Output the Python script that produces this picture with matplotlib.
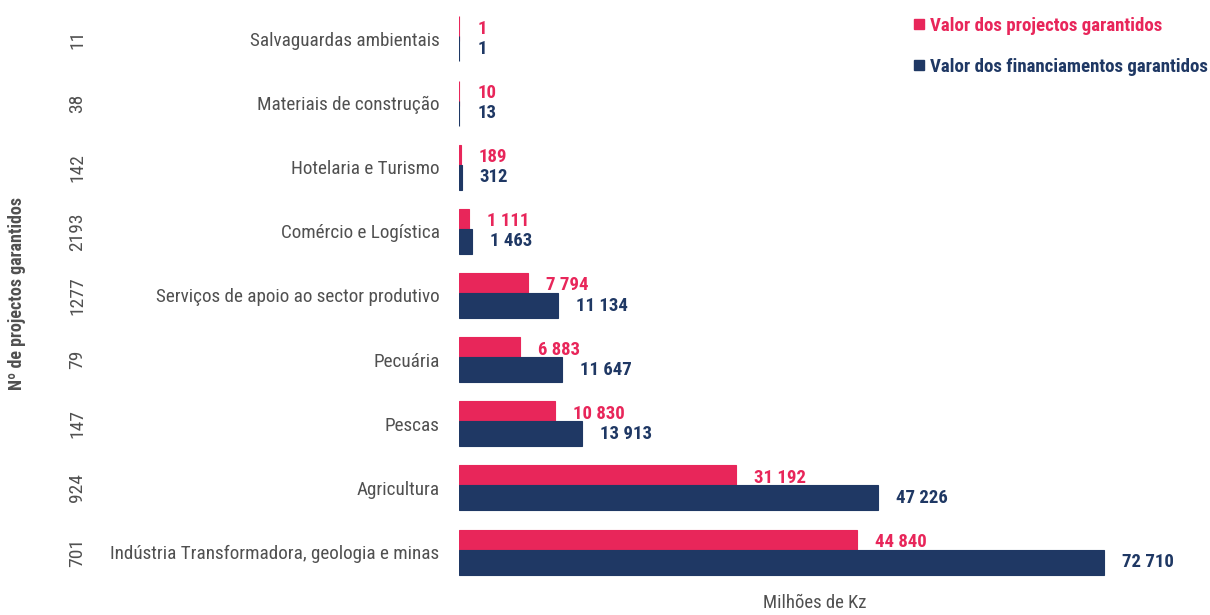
import matplotlib
matplotlib.use("Agg")
import matplotlib.pyplot as plt
import numpy as np
from matplotlib import font_manager
from matplotlib.lines import Line2D

# data, bottom to top as drawn
categories = [
    "Indústria Transformadora, geologia e minas",
    "Agricultura",
    "Pescas",
    "Pecuária",
    "Serviços de apoio ao sector produtivo",
    "Comércio e Logística",
    "Hotelaria e Turismo",
    "Materiais de construção",
    "Salvaguardas ambientais",
]
n_projects = [701, 924, 147, 79, 1277, 2193, 142, 38, 11]
projects_value = [44840, 31192, 10830, 6883, 7794, 1111, 189, 10, 1]
financing_value = [72710, 47226, 13913, 11647, 11134, 1463, 312, 13, 1]

PINK = "#E8265A"
NAVY = "#1F3864"
GRAY = "#505050"

# pick a narrow sans if one is installed
installed = {f.name for f in font_manager.fontManager.ttflist}
narrow = [n for n in ["Roboto Condensed", "Open Sans Condensed", "IBM Plex Sans Condensed",
                      "Liberation Sans Narrow"] if n in installed]
FONT = narrow[:1] + ["DejaVu Sans"]
plt.rcParams["font.family"] = FONT

W, H = 1210, 615
fig = plt.figure(figsize=(W / 100, H / 100), dpi=100)

# axes placement in pixels: x=0 at 459 px, 645 px per 72710
x0_px, x1_px = 459, 1198
px_per_unit = 645 / 72710
ax = fig.add_axes([x0_px / W, 1 - 590.5 / H, (x1_px - x0_px) / W, 590 / H])
ax.set_xlim(0, (x1_px - x0_px) / px_per_unit)
ax.set_ylim(-0.6, 8.6)

y = np.arange(len(categories))
bar_h = 0.39
off = 0.156

ax.barh(y + off, projects_value, height=bar_h, color=PINK, edgecolor=PINK, linewidth=0.8)
ax.barh(y - off, financing_value, height=bar_h, color=NAVY, edgecolor=NAVY, linewidth=0.8)


def fmt(v):
    return f"{v:,}".replace(",", " ")


for yi, pv, fv in zip(y, projects_value, financing_value):
    ax.annotate(fmt(pv), (pv, yi + off), xytext=(13, 0), textcoords="offset points",
                va="center", ha="left", color=PINK, fontsize=13.5, fontweight="bold")
    ax.annotate(fmt(fv), (fv, yi - off), xytext=(13, 0), textcoords="offset points",
                va="center", ha="left", color=NAVY, fontsize=13.5, fontweight="bold")

ax.set_yticks(y)
ax.set_yticklabels(categories, fontsize=13.8, color=GRAY)
ax.tick_params(axis="y", length=0, pad=14)
ax.set_xticks([])
for s in ax.spines.values():
    s.set_visible(False)

# project counts, rotated, left of the category labels
for yi, n in zip(y, n_projects):
    ax.annotate(str(n), (0, yi), xycoords=("figure fraction", "data"),
                xytext=(77, 0), textcoords="offset pixels",
                rotation=90, ha="center", va="center", fontsize=14, color=GRAY)

fig.text(17 / W, 1 - 293 / H, "Nº de projectos garantidos", rotation=90,
         ha="center", va="center", fontsize=13, fontweight="bold", color=GRAY)
fig.text(815 / W, 1 - 603 / H, "Milhões de Kz", ha="center", va="center",
         fontsize=13.5, color=GRAY)

handles = [
    Line2D([], [], marker="s", linestyle="none", color=PINK, markersize=7),
    Line2D([], [], marker="s", linestyle="none", color=NAVY, markersize=7),
]
fig.legend(handles, ["Valor dos projectos garantidos", "Valor dos financiamentos garantidos"],
           loc="upper left", bbox_to_anchor=(896 / W, 1.0), frameon=False,
           labelcolor=[PINK, NAVY], prop={"family": FONT, "size": 13.6, "weight": "bold"},
           handlelength=0.6, handletextpad=0.3, labelspacing=1.2)

fig.savefig("out.png", dpi=100)
